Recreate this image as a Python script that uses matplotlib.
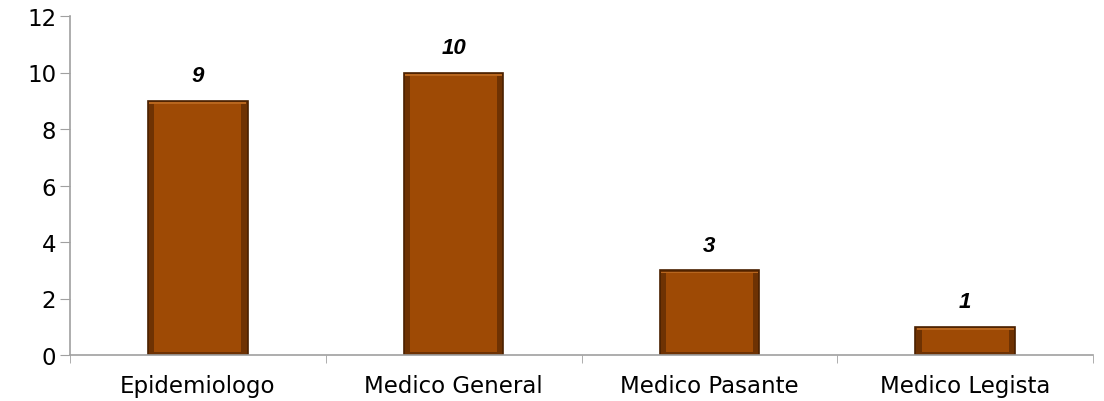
import matplotlib
matplotlib.use("Agg")
import matplotlib.pyplot as plt
import numpy as np

# данные
categorias = ["Epidemiologo", "Medico General", "Medico Pasante", "Medico Legista"]
valores = [9, 10, 3, 1]

plt.rcParams['font.family'] = ['DejaVu Sans']

fig = plt.figure(figsize=(11.04, 4.02), dpi=100)
ax = fig.add_axes([70 / 1104, 1 - 356 / 402, 1023 / 1104, 339 / 402])

x = np.arange(len(categorias))
ancho = 0.39

# столбцы с эффектом рельефа
ax.bar(x, valores, width=ancho, color="#6e3203", edgecolor="#4a2000", linewidth=1.2, zorder=2)
ax.bar(x, [v - 0.22 for v in valores], bottom=0.11, width=ancho - 0.05,
       color="#9e4a05", edgecolor="none", zorder=3)
ax.bar(x, [0.05] * len(valores), bottom=[v - 0.11 for v in valores], width=ancho - 0.01,
       color="#b8661e", edgecolor="none", zorder=3)

for xi, v in zip(x, valores):
    ax.annotate(str(v), (xi, v), xytext=(0, 18), textcoords="offset points",
                ha="center", va="center", fontsize=16, fontweight="bold",
                fontstyle="italic", family=["Liberation Sans", "DejaVu Sans"])

ax.set_ylim(0, 12)
ax.set_yticks(range(0, 13, 2))
ax.set_xlim(-0.5, len(categorias) - 0.5)
ax.set_xticks(x)
ax.set_xticklabels(categorias)
ax.set_xticks(np.arange(-0.5, len(categorias), 1), minor=True)
ax.tick_params(axis="x", which="major", length=0, pad=14, labelsize=16.5)
ax.tick_params(axis="x", which="minor", length=6, color="#a0a0a0")
ax.tick_params(axis="y", length=7, color="#a0a0a0", labelsize=16.5, pad=3)

for s in ["top", "right"]:
    ax.spines[s].set_visible(False)
for s in ["left", "bottom"]:
    ax.spines[s].set_color("#a0a0a0")
    ax.spines[s].set_linewidth(1.2)

fig.savefig("out.png", dpi=100)
